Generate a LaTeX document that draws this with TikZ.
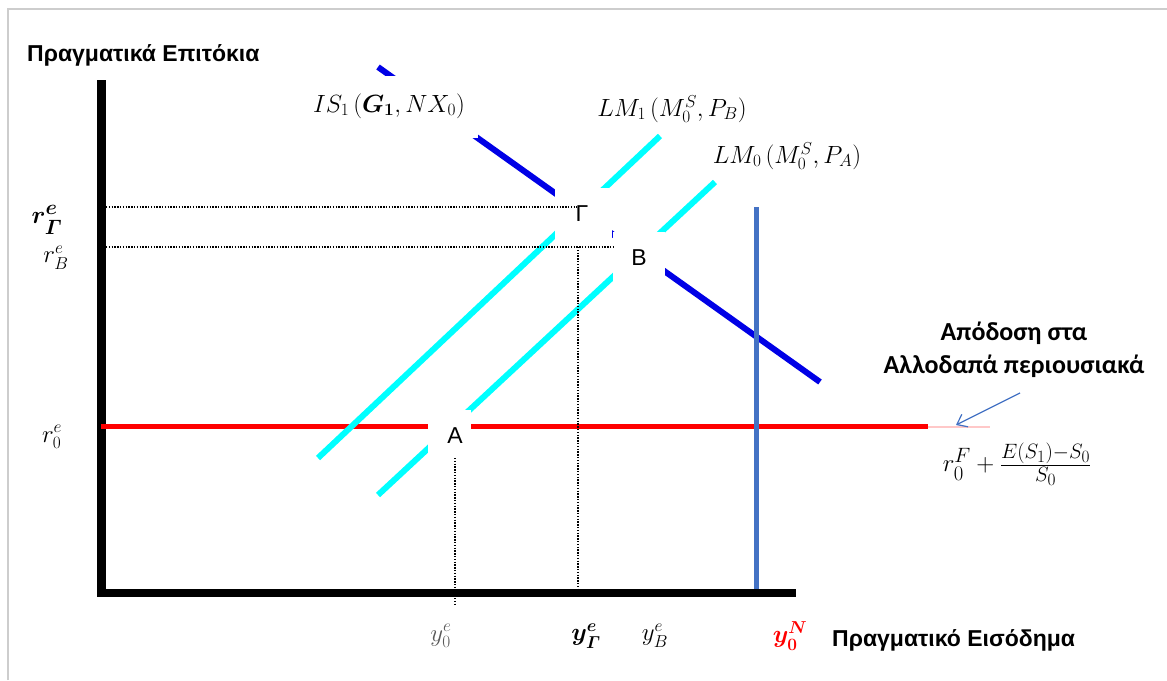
\documentclass[tikz,border=0pt]{standalone}
\usepackage{fontspec}
\usepackage{amsmath,amssymb}
\usetikzlibrary{arrows.meta}
\newfontfamily\arialf{Liberation Sans}
\newfontfamily\calib{Carlito}
\definecolor{isblue}{RGB}{0,0,230}
\definecolor{lmcyan}{RGB}{0,255,255}
\definecolor{ynblue}{RGB}{68,114,196}
\definecolor{bord}{RGB}{205,205,205}
\definecolor{redline}{RGB}{255,0,0}
\definecolor{pinkline}{RGB}{255,200,200}
\definecolor{yzero}{RGB}{90,90,90}
\tikzset{
  curve/.style={line width=6pt},
  dots/.style={line width=1.3pt, dash pattern=on 1.4pt off 1.4pt},
  ptbox/.style={fill=white, inner sep=0pt},
  ptlabel/.style={font=\arialf\fontsize{23}{27}\selectfont, inner sep=0pt},
  mlabel/.style={font=\fontsize{27}{31}\selectfont, inner sep=0pt},
  axlabel/.style={font=\arialf\bfseries\fontsize{23}{27}\selectfont, inner sep=0pt, anchor=west},
  annot/.style={font=\calib\bfseries\fontsize{26}{30}\selectfont, inner sep=0pt}
}
\begin{document}
\begin{tikzpicture}[x=1pt,y=-1pt]
\useasboundingbox (0,0) rectangle (1167,680);
\fill[white] (0,0) rectangle (1167,680);
% frame
\draw[bord, line width=2pt] (8,680) -- (8,9) -- (1167,9);
% axes
\draw[black, line width=9pt] (101.5,80) -- (101.5,597);
\draw[black, line width=8pt] (97,593) -- (796,593);
% red line
\draw[redline, line width=5pt] (101,426.5) -- (928,426.5);
\draw[pinkline, line width=1.2pt] (928,427) -- (990,427);
% LM curves
\draw[lmcyan, curve] (318,458) -- (660,136);
\draw[lmcyan, curve] (378,495) -- (715,182);
% IS curve
\draw[isblue, curve] (378,67) -- (820,382);
% natural output
\draw[ynblue, line width=5pt] (756,207) -- (756,589);
% white box behind the IS label
\node[ptbox, minimum width=180pt, minimum height=62pt] (boxIS) at (388,107) {};
% white boxes at points
\node[ptbox, minimum width=57pt, minimum height=57pt] (boxG) at (583.5,216.5) {};
\node[ptbox, minimum width=52pt, minimum height=52pt] (boxB) at (639,258) {};
\node[ptbox, minimum width=43pt, minimum height=46pt] (boxA) at (449.5,433) {};
\node[ptlabel] (G) at (582,214) {Γ};
\node[ptlabel] (B) at (639,258) {B};
\node[ptlabel] (A) at (455,436) {A};
% dotted guides
\coordinate (dGl) at (106,207);
\coordinate (dGr) at (577,207);
\coordinate (dBl) at (106,247);
\coordinate (dBr) at (613,247);
\coordinate (dYGt) at (578,247);
\coordinate (dYGb) at (578,589);
\coordinate (dA0t) at (455,458);
\coordinate (dA0b) at (455,606);
\draw[dots] (dGl) -- (dGr);
\draw[dots] (dBl) -- (dBr);
\draw[dots] (dYGt) -- (dYGb);
\draw[dots] (dA0t) -- (dA0b);
% curve labels
\node[mlabel] (isl) at (389,106) {$IS_1\,(\boldsymbol{G_1}, NX_0)$};
\node[mlabel] (lm1l) at (672,109) {$LM_1\,(M_0^S, P_B)$};
\node[mlabel] (lm0l) at (787,156) {$LM_0\,(M_0^S, P_A)$};
% axis values
\node[mlabel, font=\fontsize{32}{36}\selectfont] (rG) at (47,220) {$\boldsymbol{r^{e}_{\varGamma}}$};
\node[mlabel] (rB) at (56,258) {$r^{e}_{B}$};
\node[mlabel] (r0) at (52,437) {$r^{e}_{0}$};
\node[mlabel, text=yzero] (y0) at (441,636) {$y^{e}_{0}$};
\node[mlabel] (yG) at (586,636) {$\boldsymbol{y^{e}_{\varGamma}}$};
\node[mlabel] (yB) at (655,636) {$y^{e}_{B}$};
\node[mlabel, text=redline] (yN) at (790,636) {$\boldsymbol{y^{N}_{0}}$};
% axis titles
\node[axlabel] (ytitle) at (27,55) {Πραγματικά Επιτόκια};
\node[axlabel] (xtitle) at (832,640) {Πραγματικό Εισόδημα};
% annotation
\node[annot] (an1) at (1014,333) {Απόδοση στα};
\node[annot] (an2) at (1014,366) {Αλλοδαπά περιουσιακά};
\node[mlabel, font=\fontsize{32}{36}\selectfont] (rf) at (1017,464) {$r^{F}_{0} + \frac{E(S_1)-S_0}{S_0}$};
\coordinate (arS) at (1020,393);
\coordinate (arE) at (956,425);
\draw[ynblue, line width=1.2pt, -{Straight Barb[length=9pt,width=14pt]}] (arS) -- (arE);
\end{tikzpicture}
\end{document}
